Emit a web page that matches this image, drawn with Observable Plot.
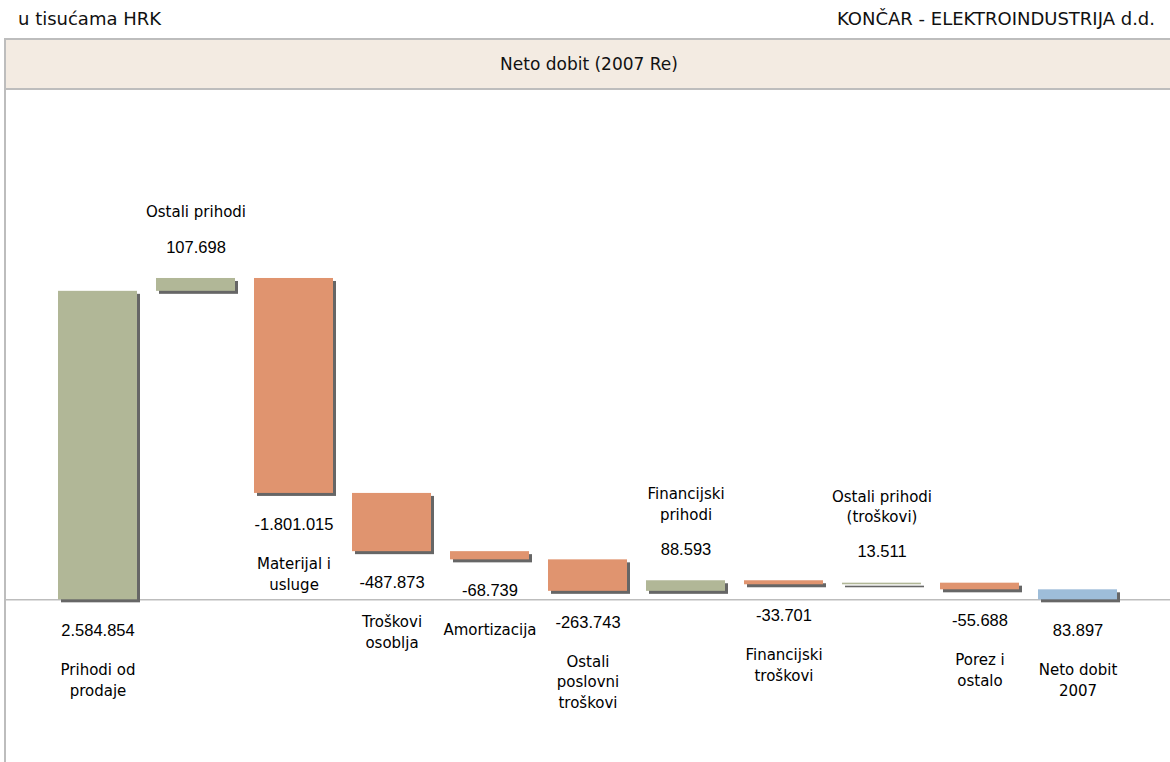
<!DOCTYPE html>
<html><head><meta charset="utf-8">
<script src="https://cdn.jsdelivr.net/npm/d3@7"></script>
<script src="https://cdn.jsdelivr.net/npm/@observablehq/plot@0.6"></script>
<style>
body{margin:0;background:#fff;width:1170px;height:762px;position:relative;overflow:hidden;font-family:"DejaVu Sans",sans-serif;color:#111;}
#unit{position:absolute;left:18px;top:8px;font-size:18px;line-height:22px;white-space:nowrap;}
#company{position:absolute;right:15px;top:8px;font-size:18px;line-height:22px;white-space:nowrap;}
#band{position:absolute;left:4px;top:38px;width:1164px;height:48px;background:#F3EBE2;border-top:2px solid #BDBDBD;border-bottom:2px solid #BDBDBD;border-left:2px solid #BDBDBD;}
#title{position:absolute;left:0;width:1166px;top:14px;text-align:center;font-size:17px;line-height:20px;white-space:nowrap;}
#leftline{position:absolute;left:4px;top:88px;width:2px;height:674px;background:#BDBDBD;}
#chart{position:absolute;left:0;top:89px;}
</style>
</head><body>
<div id="unit">u tisućama HRK</div>
<div id="company">KONČAR - ELEKTROINDUSTRIJA d.d.</div>
<div id="band"><div id="title">Neto dobit (2007 Re)</div></div>
<div id="leftline"></div>
<div id="chart"></div>
<script>
const categories = ["Prihodi od\nprodaje", "Ostali prihodi", "Materijal i\nusluge", "Troškovi\nosoblja", "Amortizacija", "Ostali\nposlovni\ntroškovi", "Financijski\nprihodi", "Financijski\ntroškovi", "Ostali prihodi\n(troškovi)", "Porez i\nostalo", "Neto dobit\n2007"];
const values = [2584854, 107698, -1801015, -487873, -68739, -263743, 88593, -33701, 13511, -55688, 83897];
const kinds = ["total", "delta", "delta", "delta", "delta", "delta", "delta", "delta", "delta", "delta", "total"];
const barColors = ["#B1B797", "#B1B797", "#E0946F", "#E0946F", "#E0946F", "#E0946F", "#B1B797", "#E0946F", "#B1B797", "#E0946F", "#9EBDD9"];

const fmt = d3.formatLocale({decimal: ",", thousands: ".", grouping: [3], currency: ["", ""], minus: "-"}).format(",d");

let run = 0;
const rows = categories.map((c, i) => {
  const v = values[i], k = kinds[i];
  let y1, y2;
  if (k === "total") { y1 = 0; y2 = v; run = v; }
  else { y1 = run; y2 = run + v; run = y2; }
  const above = k !== "total" && v > 0;
  const anchor = k === "total" ? 0 : (v > 0 ? Math.max(y1, y2) : Math.min(y1, y2));
  return {c, v, k, y1, y2, above, anchor, color: barColors[i]};
});
const up = rows.filter(d => d.above);
const down = rows.filter(d => !d.above);

const valueFont = {fontFamily: "'Liberation Sans', Arial, sans-serif", fontSize: 16.5, fill: "#000"};
const nameFont = {fontFamily: "'DejaVu Sans', sans-serif", fontSize: 15, fill: "#000", lineHeight: 1.37};

const chart = Plot.plot({
  width: 1170,
  height: 673,
  marginLeft: 6,
  marginRight: 0,
  marginTop: 0,
  marginBottom: 0,
  x: {domain: categories, range: [55, 1120], paddingInner: 0.19, paddingOuter: 0, axis: null},
  y: {domain: [-1363000, 4276000], range: [673, 0], axis: null},
  color: {type: "identity"},
  marks: [
    Plot.ruleY([0], {stroke: "#BDBDBD", strokeWidth: 1.5}),
    Plot.barY(rows, {x: "c", y1: "y1", y2: "y2", fill: "#666666", dx: 3, dy: 3}),
    Plot.barY(rows, {x: "c", y1: "y1", y2: "y2", fill: "color"}),
    Plot.text(down, {x: "c", y: "anchor", text: d => fmt(d.v), dy: 31, lineAnchor: "middle", ...valueFont}),
    Plot.text(down, {x: "c", y: "anchor", text: "c", dy: 61, lineAnchor: "top", ...nameFont}),
    Plot.text(up, {x: "c", y: "anchor", text: d => fmt(d.v), dy: -31, lineAnchor: "middle", ...valueFont}),
    Plot.text(up, {x: "c", y: "anchor", text: "c", dy: -61, lineAnchor: "bottom", ...nameFont})
  ]
});
document.getElementById("chart").appendChild(chart);
</script>
</body></html>
